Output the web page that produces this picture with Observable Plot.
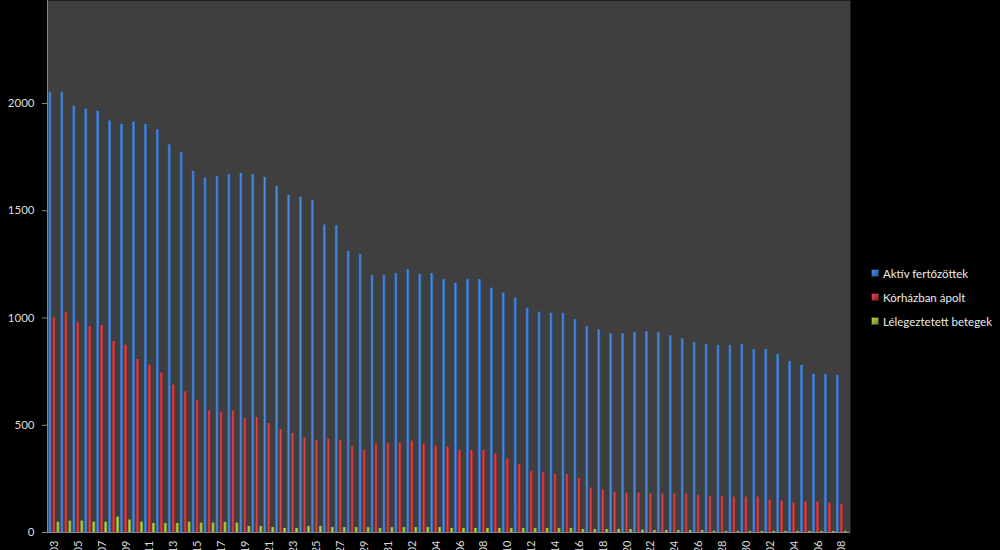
<!DOCTYPE html>
<html>
<head>
<meta charset="utf-8">
<script src="https://cdn.jsdelivr.net/npm/d3@7"></script>
<script src="https://cdn.jsdelivr.net/npm/@observablehq/plot@0.6"></script>
<style>
  html, body { margin: 0; padding: 0; background: #000; }
  #wrap { position: relative; width: 1000px; height: 550px; overflow: hidden; background: #000; }
  #legend { position: absolute; left: 871px; top: 261px; font-family: Lato, "Noto Sans", sans-serif; font-size: 11.5px; color: #ececec; }
  #legend .item { height: 24px; display: flex; align-items: center; white-space: nowrap; }
  #legend .sw { width: 6px; height: 6px; margin-right: 4px; border: 0.5px solid rgba(0,0,0,0.6); }
</style>
</head>
<body>
<div id="wrap"><div id="legend"></div></div>
<script>
const dates = [
  "2020.05.03","2020.05.04","2020.05.05","2020.05.06","2020.05.07","2020.05.08","2020.05.09","2020.05.10",
  "2020.05.11","2020.05.12","2020.05.13","2020.05.14","2020.05.15","2020.05.16","2020.05.17","2020.05.18",
  "2020.05.19","2020.05.20","2020.05.21","2020.05.22","2020.05.23","2020.05.24","2020.05.25","2020.05.26",
  "2020.05.27","2020.05.28","2020.05.29","2020.05.30","2020.05.31","2020.06.01","2020.06.02","2020.06.03",
  "2020.06.04","2020.06.05","2020.06.06","2020.06.07","2020.06.08","2020.06.09","2020.06.10","2020.06.11",
  "2020.06.12","2020.06.13","2020.06.14","2020.06.15","2020.06.16","2020.06.17","2020.06.18","2020.06.19",
  "2020.06.20","2020.06.21","2020.06.22","2020.06.23","2020.06.24","2020.06.25","2020.06.26","2020.06.27",
  "2020.06.28","2020.06.29","2020.06.30","2020.07.01","2020.07.02","2020.07.03","2020.07.04","2020.07.05",
  "2020.07.06","2020.07.07","2020.07.08"
];
const aktiv = [
  2051,2051,1987,1973,1964,1918,1902,1913,1902,1877,1807,1772,1684,1652,1660,1669,
  1674,1669,1655,1613,1571,1563,1548,1434,1430,1310,1296,1198,1198,1207,1226,1203,
  1207,1179,1161,1179,1179,1139,1116,1092,1046,1027,1022,1022,992,959,945,926,
  926,931,936,931,917,903,886,876,872,872,876,853,853,830,797,779,737,737,732
];
const korhaz = [
  1001,1024,978,960,965,890,873,807,780,743,687,656,614,567,559,567,
  531,536,508,480,462,440,429,435,429,402,382,412,416,416,426,412,
  402,398,382,382,382,365,342,317,284,280,270,270,252,207,197,188,
  183,183,179,179,179,179,174,169,169,165,165,165,151,146,137,141,141,137,129
];
const lelegeztetett = [
  48,53,53,48,48,72,58,48,42,42,42,48,44,44,47,44,
  28,28,23,19,19,28,28,23,23,23,23,19,23,23,23,23,
  23,19,19,19,19,19,19,19,19,19,19,19,14,14,14,14,
  14,11,9,9,9,9,9,6,5,5,5,5,5,5,5,5,5,5,5
];
const seriesNames = ["Aktív fertőzöttek", "Kórházban ápolt", "Lélegeztetett betegek"];
const yTicks = [0, 500, 1000, 1500, 2000];
const xTicks = dates.filter((d, i) => i % 2 === 0);

const gradients = [
  {id: "gBlue", edge: "#24569c", mid: "#4f8fe0"},
  {id: "gRed", edge: "#962020", mid: "#e04848"},
  {id: "gGreen", edge: "#6f8a22", mid: "#b5d452"}
];

const rows = dates.map((d, i) => ({date: d, a: aktiv[i], k: korhaz[i], l: lelegeztetett[i]}));

const chart = Plot.plot({
  width: 1000,
  height: 550,
  marginLeft: 47,
  marginRight: 150,
  marginTop: 0,
  marginBottom: 18,
  style: {background: "#000", color: "#dcdcdc", fontFamily: "Lato, 'Noto Sans', sans-serif", fontSize: "11px", overflow: "hidden"},
  x: {domain: dates, range: [48, 847.3], padding: 0, axis: null},
  y: {domain: [0, 2480], axis: null},
  marks: [
    Plot.frame({fill: "#3f3f3f", stroke: null}),
    Plot.barY(rows, {x: "date", y: "a", fill: "url(#gBlue)", insetLeft: 4.4, insetRight: 4.4, dx: -4}),
    Plot.barY(rows, {x: "date", y: "k", fill: "url(#gRed)", insetLeft: 4.4, insetRight: 4.4, dx: 0}),
    Plot.barY(rows, {x: "date", y: "l", fill: "url(#gGreen)", insetLeft: 4.4, insetRight: 4.4, dx: 4}),
    Plot.ruleY([0], {stroke: "#8a8a8a"}),
    Plot.frame({anchor: "left", stroke: "#8a8a8a"}),
    Plot.axisY({ticks: yTicks, tickFormat: d => String(d), tickSize: 5, tickPadding: 8, stroke: "#8a8a8a", fill: "#dcdcdc", label: null, fontSize: 11.5}),
    Plot.axisX({ticks: xTicks, tickRotate: -90, tickSize: 0, tickPadding: 8, fill: "#dcdcdc", label: null})
  ]
});

// gradient definitions for the bevelled bar look
const svgNS = "http://www.w3.org/2000/svg";
const defs = document.createElementNS(svgNS, "defs");
for (const g of gradients) {
  const lg = document.createElementNS(svgNS, "linearGradient");
  lg.setAttribute("id", g.id);
  lg.setAttribute("x1", "0"); lg.setAttribute("x2", "1");
  lg.setAttribute("y1", "0"); lg.setAttribute("y2", "0");
  [[0, g.edge], [0.45, g.mid], [1, g.edge]].forEach(([o, c]) => {
    const s = document.createElementNS(svgNS, "stop");
    s.setAttribute("offset", o);
    s.setAttribute("stop-color", c);
    lg.appendChild(s);
  });
  defs.appendChild(lg);
}
chart.insertBefore(defs, chart.firstChild);
document.getElementById("wrap").insertBefore(chart, document.getElementById("legend"));

const legend = document.getElementById("legend");
seriesNames.forEach((name, i) => {
  const item = document.createElement("div");
  item.className = "item";
  const sw = document.createElement("span");
  sw.className = "sw";
  sw.style.background = `linear-gradient(135deg, ${gradients[i].mid}, ${gradients[i].edge})`;
  const t = document.createElement("span");
  t.textContent = name;
  item.appendChild(sw);
  item.appendChild(t);
  legend.appendChild(item);
});
</script>
</body>
</html>
